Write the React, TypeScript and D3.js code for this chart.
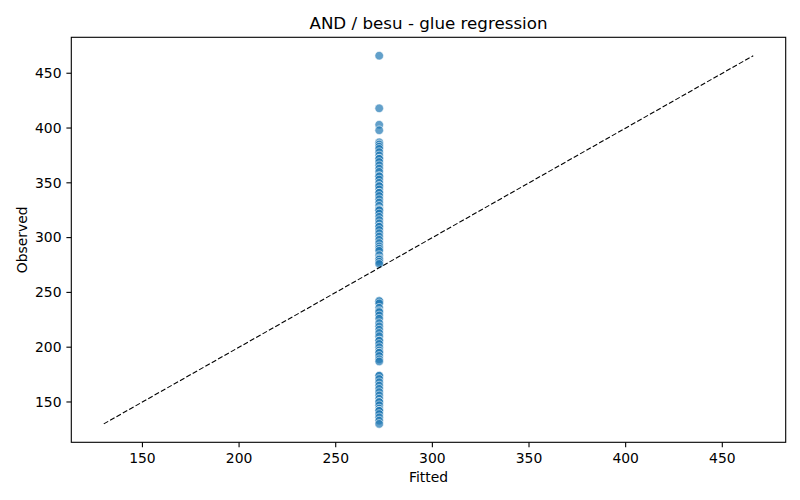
import React, { useEffect } from 'react';
import * as d3 from 'd3';

// every point sits on the same fitted value (intercept-only model)
const fittedValue = 272.5;

const observedUpper = [
  466, 418, 403, 398, 387, 385, 383, 381, 378, 375, 372, 372, 369, 366, 363, 360, 356, 356, 353,
  350, 347, 347, 344, 341, 341, 338, 335, 332, 329, 326, 325, 325, 322, 319, 316, 313, 310, 310,
  307, 304, 301, 298, 295, 292, 290, 288, 284, 281, 280, 278, 276,
];
const observedMiddle = [
  242, 242, 240, 236, 233, 232, 229, 226, 222, 219, 216, 213, 210, 206, 206, 203, 200, 197, 195,
  195, 192, 189, 187,
];
const observedLower = [
  174, 174, 171, 168, 165, 162, 159, 156, 153, 150, 150, 147, 144, 142, 142, 139, 136, 133, 130,
];

const xTicks = [150, 200, 250, 300, 350, 400, 450];
const yTicks = [150, 200, 250, 300, 350, 400, 450];

const title = 'AND / besu - glue regression';
const xLabel = 'Fitted';
const yLabel = 'Observed';

export default function App() {
  useEffect(() => {
    document.body.style.margin = '0';
  }, []);

  const width = 800;
  const height = 500;
  const margin = { top: 37.3, right: 14.3, bottom: 57.7, left: 71.3 };
  const innerW = width - margin.left - margin.right;
  const innerH = height - margin.top - margin.bottom;

  const observed = [...observedUpper, ...observedMiddle, ...observedLower];
  const points = observed.map((o) => ({ fitted: fittedValue, observed: o }));

  // identity line spans the range of both variables, 5% padding like matplotlib
  const lo = d3.min([fittedValue, ...observed]) as number;
  const hi = d3.max([fittedValue, ...observed]) as number;
  const pad = (hi - lo) * 0.05;

  const x = d3.scaleLinear().domain([lo - pad, hi + pad]).range([0, innerW]);
  const y = d3.scaleLinear().domain([lo - pad, hi + pad]).range([innerH, 0]);

  const identity = d3.line<number>().x((d) => x(d)).y((d) => y(d));

  const font = 'DejaVu Sans, sans-serif';

  return (
    <svg width={width} height={height} style={{ display: 'block', background: '#fff' }}>
      <text
        x={margin.left + innerW / 2}
        y={23}
        textAnchor="middle"
        dy="0.35em"
        fontFamily={font}
        fontSize={16.7}
        fill="#000"
      >
        {title}
      </text>
      <g transform={`translate(${margin.left},${margin.top})`}>
        {points.map((d, i) => (
          <circle
            key={i}
            cx={x(d.fitted)}
            cy={y(d.observed)}
            r={4.3}
            fill="#1f77b4"
            fillOpacity={0.7}
            stroke="#fff"
            strokeOpacity={0.7}
            strokeWidth={0.8}
          />
        ))}
        <path
          d={identity([lo, hi]) || ''}
          fill="none"
          stroke="#000"
          strokeWidth={1.1}
          strokeDasharray="5.1,2.2"
        />
        <rect width={innerW} height={innerH} fill="none" stroke="#000" strokeWidth={1.1} />

        {xTicks.map((t) => (
          <g key={`x${t}`} transform={`translate(${x(t)},${innerH})`}>
            <line y2={4.9} stroke="#000" strokeWidth={1.1} />
            <text y={9.8} dy="0.76em" textAnchor="middle" fontFamily={font} fontSize={13.9} fill="#000">
              {t}
            </text>
          </g>
        ))}
        {yTicks.map((t) => (
          <g key={`y${t}`} transform={`translate(0,${y(t)})`}>
            <line x2={-4.9} stroke="#000" strokeWidth={1.1} />
            <text x={-9.8} dy="0.35em" textAnchor="end" fontFamily={font} fontSize={13.9} fill="#000">
              {t}
            </text>
          </g>
        ))}

        <text
          x={innerW / 2}
          y={innerH + 34.5}
          dy="0.35em"
          textAnchor="middle"
          fontFamily={font}
          fontSize={13.9}
          fill="#000"
        >
          {xLabel}
        </text>
        <text
          transform={`translate(${22 - margin.left},${innerH / 2}) rotate(-90)`}
          dy="0.35em"
          textAnchor="middle"
          fontFamily={font}
          fontSize={13.9}
          fill="#000"
        >
          {yLabel}
        </text>
      </g>
    </svg>
  );
}
